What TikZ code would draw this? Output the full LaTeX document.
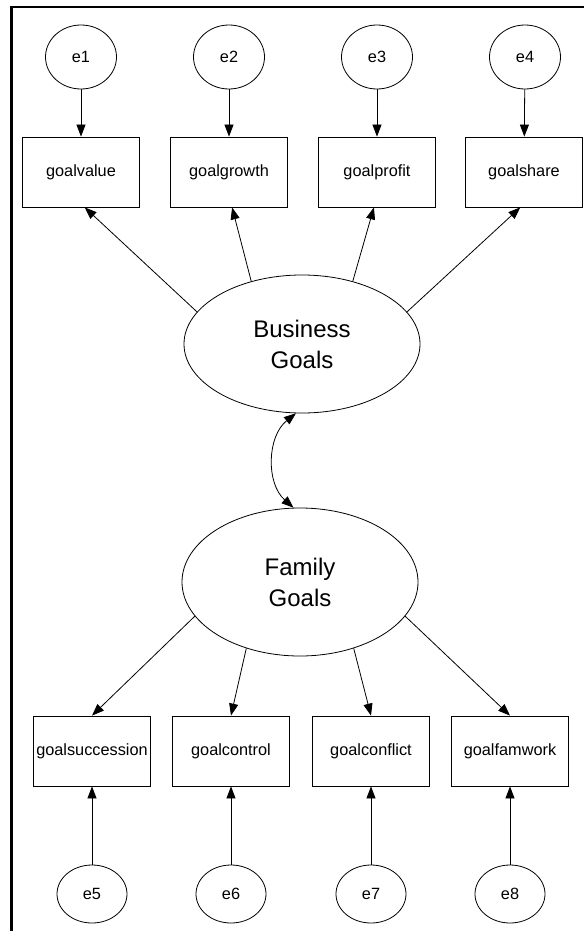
\documentclass[tikz,border=0pt]{standalone}
\usepackage{fontspec}
\setmainfont{Liberation Sans}
\usetikzlibrary{arrows.meta,shapes.geometric}
\tikzset{
  obsbox/.style  = {draw, rectangle, line width=0.8pt, minimum width=117pt,
                    minimum height=70pt, inner sep=0pt,
                    font=\fontsize{16.3}{19}\selectfont},
  errnode/.style = {draw, ellipse, line width=0.8pt, minimum width=71pt,
                    minimum height=64pt, inner sep=0pt,
                    font=\fontsize{16.3}{19}\selectfont},
  latent/.style  = {draw, ellipse, line width=0.8pt, minimum width=236pt,
                    inner sep=0pt, align=center,
                    font=\fontsize{24}{31}\selectfont},
  load/.style    = {-{Triangle[length=12pt,width=9pt]}, line width=0.8pt},
  covar/.style   = {{Triangle[length=12pt,width=9pt]}-{Triangle[length=12pt,width=9pt]},
                    line width=0.8pt},
}

\begin{document}
\begin{tikzpicture}[x=1pt,y=-1pt]
\useasboundingbox (0,0) rectangle (584,931);
% frame edges
\coordinate (fa) at (11.5,931);
\coordinate (fb) at (11.5,7);
\coordinate (fc) at (584,7);
\draw[line width=2.4pt] (fa) -- (fb) -- (fc);
% latent factors
\node[latent,minimum height=138pt] (bg) at (302,344) {Business\\Goals};
\node[latent,minimum height=148pt] (fg) at (300,582) {Family\\Goals};
% business indicators and errors
\node[obsbox] (gv) at (81,172)  {goalvalue};
\node[obsbox] (gg) at (229,172) {goalgrowth};
\node[obsbox] (gp) at (377,172) {goalprofit};
\node[obsbox] (gs) at (524,172) {goalshare};
\node[errnode] (e1) at (81,57)  {e1};
\node[errnode] (e2) at (229,57) {e2};
\node[errnode] (e3) at (377,57) {e3};
\node[errnode] (e4) at (525,57) {e4};
% family indicators and errors
\node[obsbox] (gsu) at (92,751)  {goalsuccession};
\node[obsbox] (gc)  at (231,751) {goalcontrol};
\node[obsbox] (gcf) at (371,751) {goalconflict};
\node[obsbox] (gf)  at (510,751) {goalfamwork};
\node[errnode,minimum width=70pt,minimum height=58pt] (e5) at (92,894)  {e5};
\node[errnode,minimum width=70pt,minimum height=58pt] (e6) at (231,894) {e6};
\node[errnode,minimum width=70pt,minimum height=58pt] (e7) at (371,894) {e7};
\node[errnode,minimum width=70pt,minimum height=58pt] (e8) at (510,894) {e8};
% error paths
\draw[load] (e1) -- (gv);
\draw[load] (e2) -- (gg);
\draw[load] (e3) -- (gp);
\draw[load] (e4) -- (gs);
\draw[load] (e5) -- (gsu);
\draw[load] (e6) -- (gc);
\draw[load] (e7) -- (gcf);
\draw[load] (e8) -- (gf);
% loadings
\draw[load] (bg.163) -- (gv.-84);
\draw[load] (bg.129) -- (gg.-85);
\draw[load] (bg.51)  -- (gp.-95);
\draw[load] (bg.17)  -- (gs.-96);
\draw[load] (fg.198) -- (gsu.north);
\draw[load] (fg.231) -- (gc.north);
\draw[load] (fg.309) -- (gcf.north);
\draw[load] (fg.342) -- (gf.north);
% correlation of the factors
\draw[covar] (bg.265) to[bend right=50] (fg.95);
\end{tikzpicture}
\end{document}
